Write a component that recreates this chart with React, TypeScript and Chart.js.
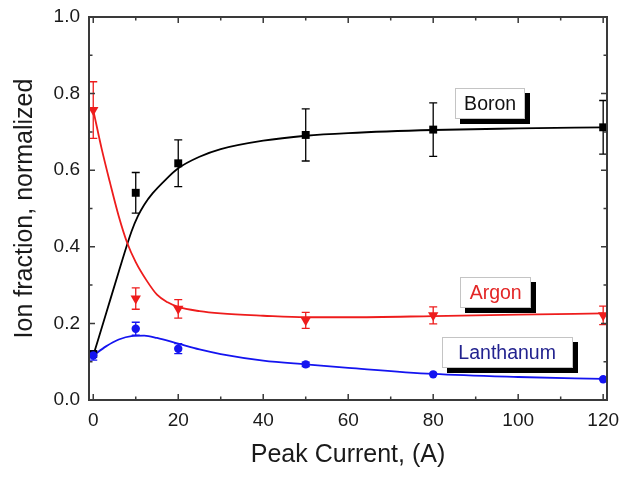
import React, { useEffect, useRef } from "react";
import { Chart, registerables } from "chart.js";

Chart.register(...registerables);

// ---- data ----
const xValues = [0, 10, 20, 50, 80, 120];

const boronY = [0.12, 0.541, 0.618, 0.692, 0.706, 0.712];
const boronErr = [0, 0.053, 0.061, 0.068, 0.07, 0.07];

const argonY = [0.757, 0.265, 0.238, 0.208, 0.221, 0.221];
const argonErr = [0.074, 0.028, 0.024, 0.021, 0.022, 0.024];

const lanthanumY = [0.116, 0.186, 0.134, 0.093, 0.067, 0.054];
const lanthanumErr = [0.012, 0.017, 0.013, 0.006, 0, 0];

const boronFitX = [0, 3, 6, 9, 10.5, 12, 14, 17, 20, 25, 30, 40, 50, 60, 80, 100, 120];
const boronFitY = [0.116, 0.225, 0.335, 0.44, 0.48, 0.51, 0.54, 0.575, 0.605, 0.635, 0.655, 0.677, 0.69, 0.697, 0.705, 0.709, 0.712];

const argonFitX = [0, 2, 4, 6, 8, 10, 12.5, 15, 17.5, 20, 25, 30, 40, 50, 60, 80, 100, 120];
const argonFitY = [0.757, 0.655, 0.565, 0.48, 0.41, 0.36, 0.313, 0.275, 0.255, 0.243, 0.232, 0.226, 0.22, 0.216, 0.216, 0.219, 0.223, 0.226];

const lanthanumFitX = [0, 3, 6, 9, 12, 15, 20, 25, 30, 40, 50, 60, 80, 100, 120];
const lanthanumFitY = [0.116, 0.14, 0.158, 0.167, 0.168, 0.162, 0.147, 0.132, 0.12, 0.103, 0.093, 0.084, 0.068, 0.06, 0.055];

const xMajorTicks = [0, 20, 40, 60, 80, 100, 120];
const xMinorTicks = [10, 30, 50, 70, 90, 110];
const yMajorTicks = [0, 0.2, 0.4, 0.6, 0.8, 1.0];
const yMinorTicks = [0.1, 0.3, 0.5, 0.7, 0.9];

const labelNames = ["Boron", "Argon", "Lanthanum"];
const labelX = [93.4, 94.7, 97.4];
const labelY = [0.774, 0.281, 0.124];

// ---- styles ----
const FONT = "'Liberation Sans', Arial, Helvetica, sans-serif";
const BLACK = "#000000";
const RED = "#ee1c1c";
const BLUE = "#1414f0";
const labelColors = ["#111111", "#e32626", "#23238f"];
const labelWidths = [70, 71, 131];
const AXIS = "#3a3a3a";

const toPts = (xs: number[], ys: number[]) => xs.map((x, i) => ({ x, y: ys[i] }));

const seriesErr = [
  { y: boronY, err: boronErr, color: BLACK },
  { y: argonY, err: argonErr, color: RED },
  { y: lanthanumY, err: lanthanumErr, color: BLUE },
];

const decorPlugin = {
  id: "decor",
  beforeDatasetsDraw(chart: any) {
    const { ctx, scales } = chart;
    const x = scales.x;
    const y = scales.y;
    ctx.save();
    ctx.lineWidth = 1.3;
    seriesErr.forEach((s) => {
      ctx.strokeStyle = s.color;
      xValues.forEach((xv, i) => {
        const e = s.err[i];
        if (!e) return;
        const px = x.getPixelForValue(xv);
        const top = y.getPixelForValue(s.y[i] + e);
        const bot = y.getPixelForValue(s.y[i] - e);
        ctx.beginPath();
        ctx.moveTo(px, top);
        ctx.lineTo(px, bot);
        ctx.moveTo(px - 4, top);
        ctx.lineTo(px + 4, top);
        ctx.moveTo(px - 4, bot);
        ctx.lineTo(px + 4, bot);
        ctx.stroke();
      });
    });
    ctx.restore();
  },
  afterDraw(chart: any) {
    const { ctx, chartArea, scales } = chart;
    const x = scales.x;
    const y = scales.y;
    const { left, right, top, bottom } = chartArea;
    ctx.save();
    ctx.strokeStyle = AXIS;
    ctx.lineWidth = 1.5;
    const major = 6;
    const minor = 3.5;
    ctx.beginPath();
    xMajorTicks.forEach((v) => {
      const px = x.getPixelForValue(v);
      ctx.moveTo(px, bottom);
      ctx.lineTo(px, bottom - major);
      ctx.moveTo(px, top);
      ctx.lineTo(px, top + major);
    });
    xMinorTicks.forEach((v) => {
      const px = x.getPixelForValue(v);
      ctx.moveTo(px, bottom);
      ctx.lineTo(px, bottom - minor);
      ctx.moveTo(px, top);
      ctx.lineTo(px, top + minor);
    });
    yMajorTicks.forEach((v) => {
      const py = y.getPixelForValue(v);
      ctx.moveTo(left, py);
      ctx.lineTo(left + major, py);
      ctx.moveTo(right, py);
      ctx.lineTo(right - major, py);
    });
    yMinorTicks.forEach((v) => {
      const py = y.getPixelForValue(v);
      ctx.moveTo(left, py);
      ctx.lineTo(left + minor, py);
      ctx.moveTo(right, py);
      ctx.lineTo(right - minor, py);
    });
    ctx.stroke();
    ctx.lineWidth = 2;
    ctx.strokeRect(left, top, right - left, bottom - top);

    ctx.font = `19.5px ${FONT}`;
    ctx.textAlign = "center";
    ctx.textBaseline = "middle";
    labelNames.forEach((name, i) => {
      const cx = x.getPixelForValue(labelX[i]);
      const cy = y.getPixelForValue(labelY[i]);
      const w = labelWidths[i];
      const h = 31;
      const bx = Math.round(cx - w / 2);
      const by = Math.round(cy - h / 2);
      ctx.fillStyle = "#000";
      ctx.fillRect(bx + 5, by + 5, w, h);
      ctx.fillStyle = "#fff";
      ctx.fillRect(bx, by, w, h);
      ctx.strokeStyle = "#c4c4c4";
      ctx.lineWidth = 1;
      ctx.strokeRect(bx + 0.5, by + 0.5, w - 1, h - 1);
      ctx.fillStyle = labelColors[i];
      ctx.fillText(name, cx, cy + 1);
    });
    ctx.restore();
  },
};

export default function App() {
  const ref = useRef<HTMLCanvasElement | null>(null);

  useEffect(() => {
    if (!ref.current) return;
    const chart = new Chart(ref.current, {
      type: "scatter",
      data: {
        datasets: [
          {
            label: "Lanthanum",
            data: toPts(xValues, lanthanumY),
            pointStyle: "circle",
            pointRadius: 4.2,
            backgroundColor: BLUE,
            borderColor: BLUE,
            borderWidth: 0,
            showLine: false,
          },
          {
            label: "Argon",
            data: toPts(xValues, argonY),
            pointStyle: "triangle",
            pointRotation: 180,
            pointRadius: 6,
            backgroundColor: RED,
            borderColor: RED,
            borderWidth: 0,
            showLine: false,
          },
          {
            label: "Boron",
            data: toPts(xValues, boronY),
            pointStyle: "rect",
            pointRadius: 5.6,
            backgroundColor: BLACK,
            borderColor: BLACK,
            borderWidth: 0,
            showLine: false,
          },
          {
            label: "Lanthanum fit",
            data: toPts(lanthanumFitX, lanthanumFitY),
            showLine: true,
            pointRadius: 0,
            borderColor: BLUE,
            borderWidth: 1.8,
            cubicInterpolationMode: "monotone",
          },
          {
            label: "Argon fit",
            data: toPts(argonFitX, argonFitY),
            showLine: true,
            pointRadius: 0,
            borderColor: RED,
            borderWidth: 1.8,
            cubicInterpolationMode: "monotone",
          },
          {
            label: "Boron fit",
            data: toPts(boronFitX, boronFitY),
            showLine: true,
            pointRadius: 0,
            borderColor: BLACK,
            borderWidth: 1.8,
            cubicInterpolationMode: "monotone",
          },
        ],
      },
      options: {
        responsive: false,
        animation: false,
        layout: { padding: { top: 17, right: 14, left: 0, bottom: 0 } },
        plugins: {
          legend: { display: false },
          tooltip: { enabled: false },
        },
        scales: {
          x: {
            type: "linear",
            min: -1,
            max: 120.9,
            afterBuildTicks: (s: any) => {
              s.ticks = xMajorTicks.map((v) => ({ value: v }));
            },
            afterFit: (s: any) => {
              s.height = 79;
              s.paddingLeft = 0;
              s.paddingRight = 0;
            },
            grid: { display: false, drawTicks: false },
            border: { display: false },
            ticks: {
              font: { family: FONT, size: 19 },
              color: "#1a1a1a",
              padding: 9,
              maxRotation: 0,
              autoSkip: false,
            },
            title: {
              display: true,
              text: "Peak Current, (A)",
              font: { family: FONT, size: 25 },
              color: "#1a1a1a",
              padding: { top: 4, bottom: 9 },
            },
          },
          y: {
            type: "linear",
            min: 0,
            max: 1,
            afterBuildTicks: (s: any) => {
              s.ticks = yMajorTicks.map((v) => ({ value: v }));
            },
            afterFit: (s: any) => {
              s.width = 89;
              s.paddingTop = 0;
              s.paddingBottom = 0;
            },
            grid: { display: false, drawTicks: false },
            border: { display: false },
            ticks: {
              font: { family: FONT, size: 19 },
              color: "#1a1a1a",
              padding: 9,
              autoSkip: false,
              callback: (v: any) => Number(v).toFixed(1),
            },
            title: {
              display: true,
              text: "Ion fraction, normalized",
              font: { family: FONT, size: 25 },
              color: "#1a1a1a",
              padding: { top: 10, bottom: 4 },
            },
          },
        },
      },
      plugins: [decorPlugin],
    } as any);
    return () => chart.destroy();
  }, []);

  return (
    <div style={{ position: "absolute", left: 0, top: 0, width: 621, height: 479, background: "#fff" }}>
      <canvas ref={ref} width={621} height={479} style={{ display: "block" }} />
    </div>
  );
}
